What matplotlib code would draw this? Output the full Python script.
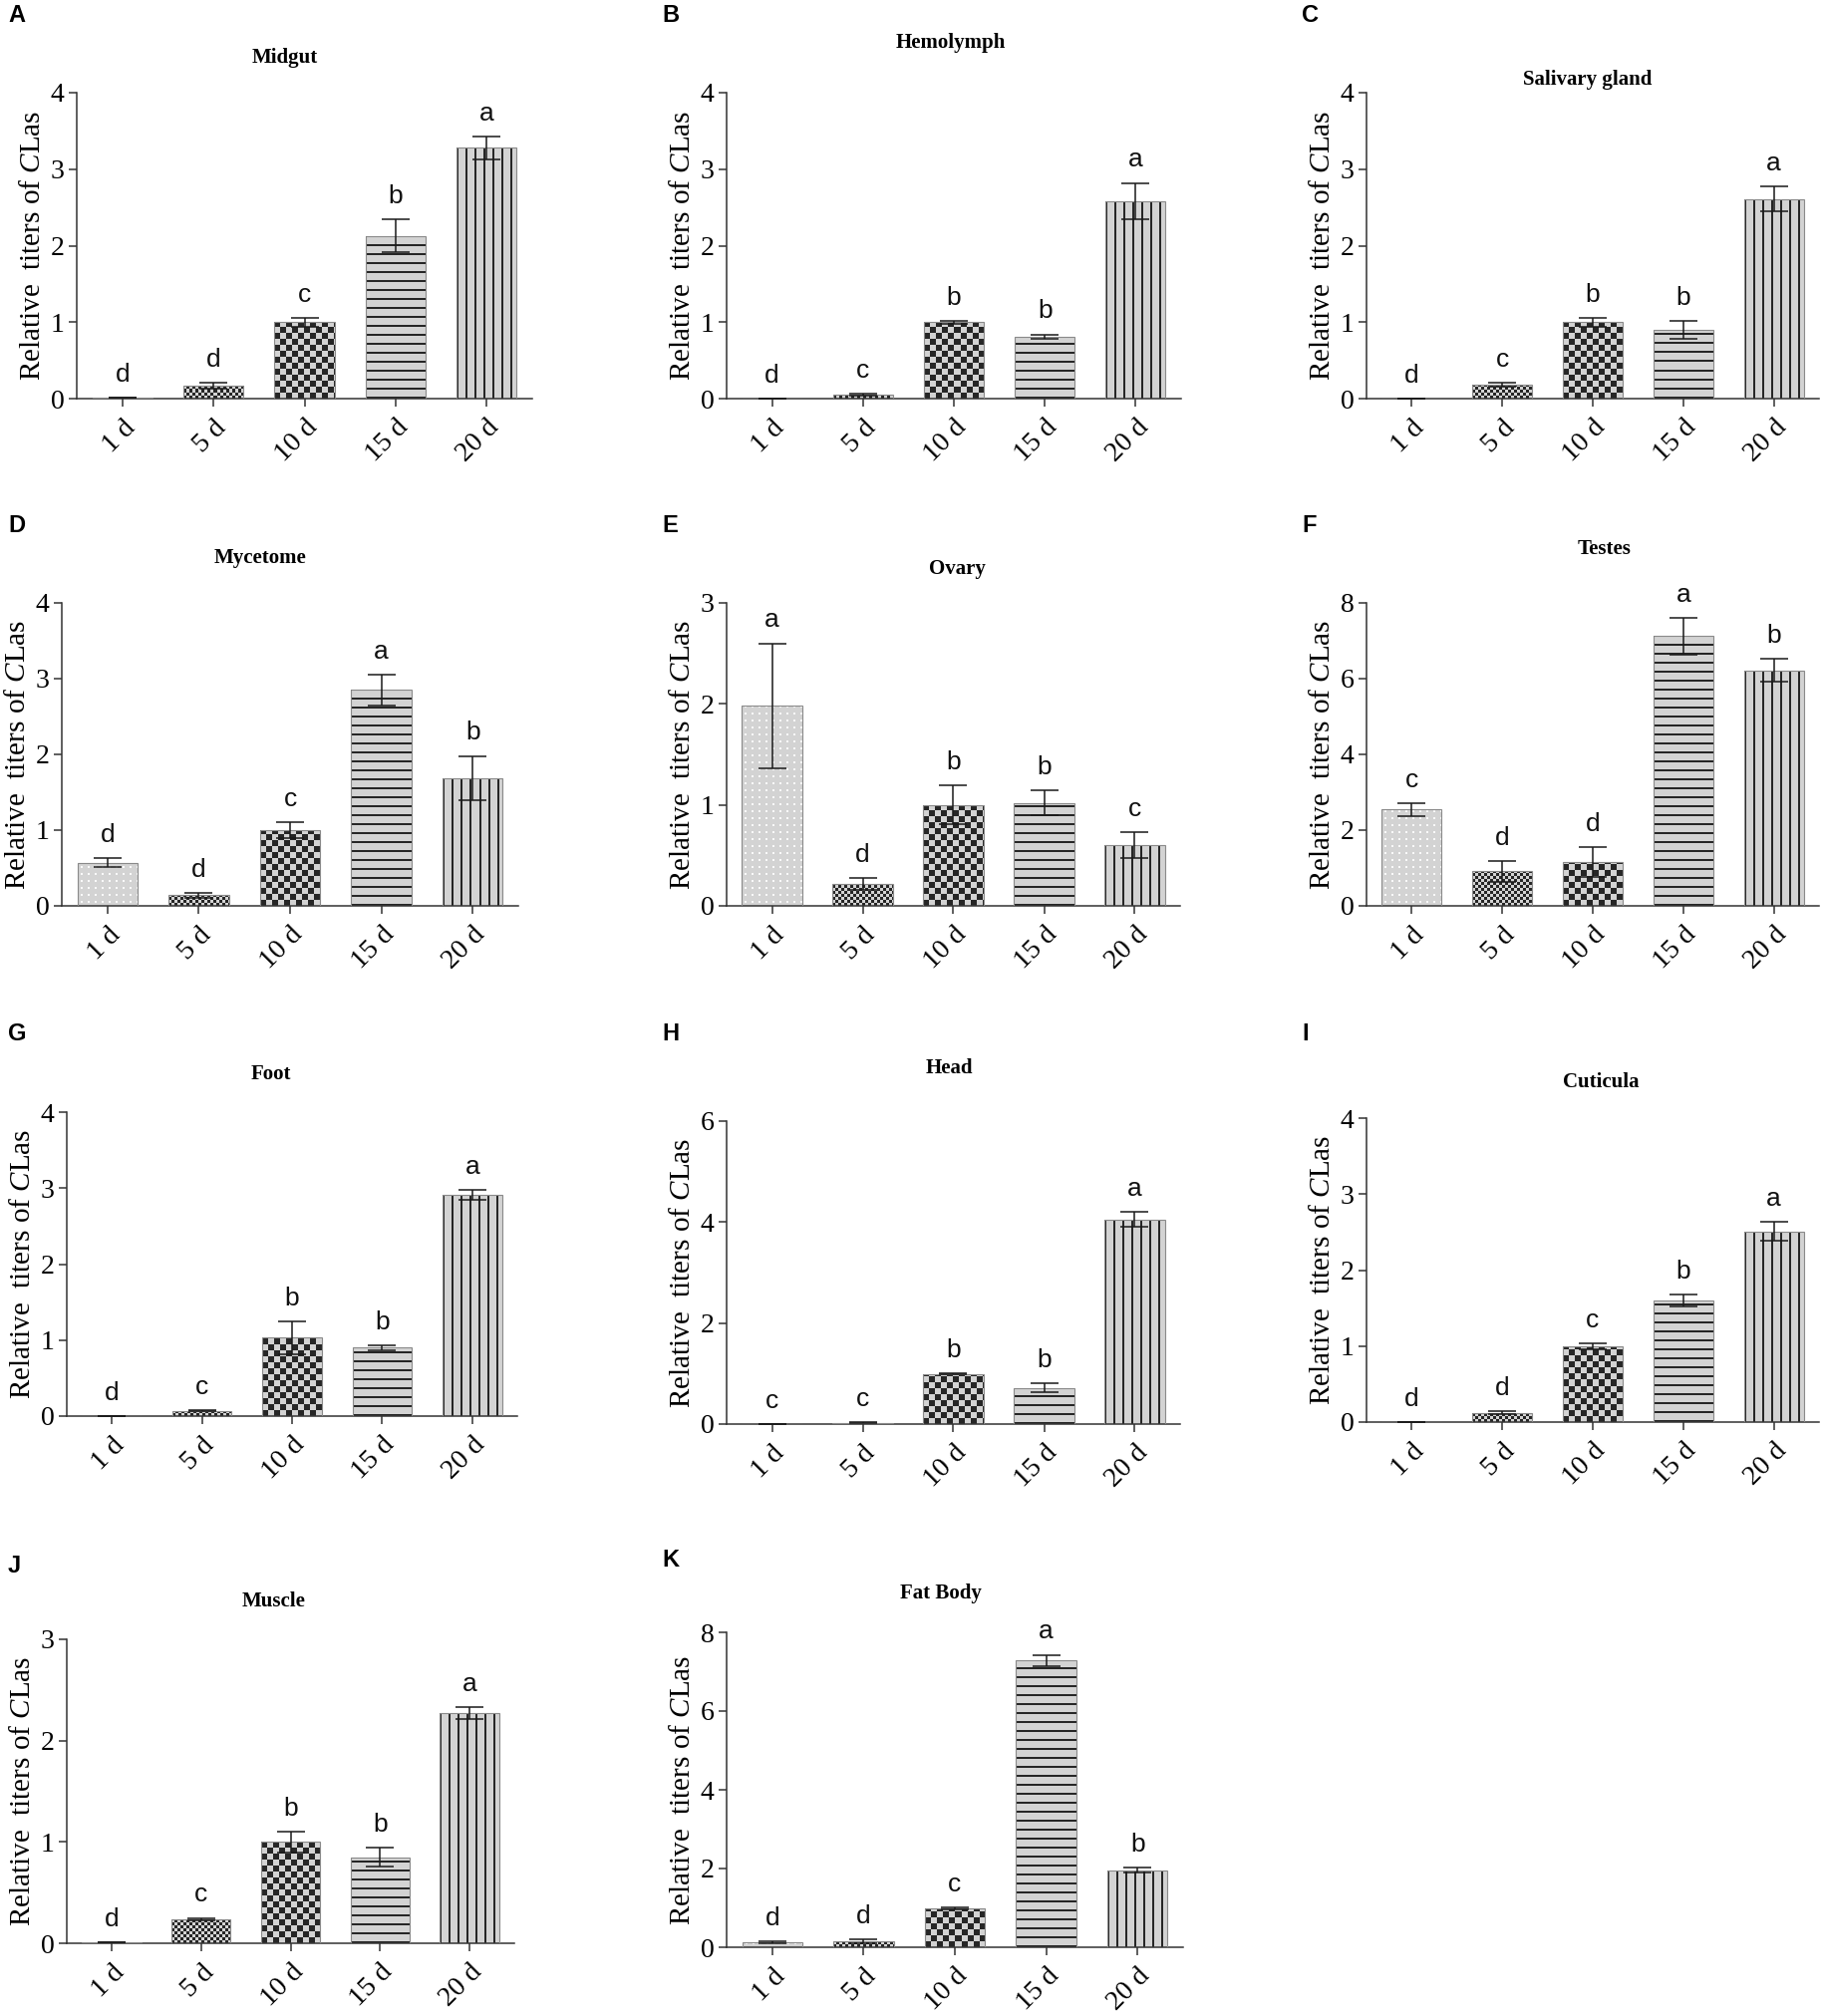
import numpy as np
import matplotlib
matplotlib.use("Agg")
import matplotlib.pyplot as plt

plt.rcParams['font.family'] = ['Liberation Serif', 'DejaVu Serif']
plt.rcParams['mathtext.fontset'] = 'custom'
plt.rcParams['mathtext.rm'] = 'Liberation Serif'
plt.rcParams['mathtext.it'] = 'Liberation Serif:italic'

# ---------------- data ----------------
days = ["1 d", "5 d", "10 d", "15 d", "20 d"]
panel_ids = ["A", "B", "C", "D", "E", "F", "G", "H", "I", "J", "K"]
tissues = ["Midgut", "Hemolymph", "Salivary gland", "Mycetome", "Ovary", "Testes",
           "Foot", "Head", "Cuticula", "Muscle", "Fat Body"]
means = [
    [0.01, 0.17, 1.00, 2.13, 3.28],
    [0.00, 0.05, 1.00, 0.81, 2.58],
    [0.00, 0.18, 1.00, 0.90, 2.61],
    [0.57, 0.14, 1.00, 2.85, 1.69],
    [1.98, 0.22, 1.00, 1.02, 0.60],
    [2.55, 0.91, 1.16, 7.12, 6.22],
    [0.00, 0.07, 1.03, 0.90, 2.91],
    [0.00, 0.02, 0.99, 0.72, 4.05],
    [0.00, 0.12, 1.00, 1.60, 2.51],
    [0.01, 0.24, 1.00, 0.85, 2.27],
    [0.13, 0.15, 0.98, 7.28, 1.96],
]
errors = [
    [0.00, 0.04, 0.06, 0.21, 0.15],
    [0.00, 0.01, 0.02, 0.03, 0.24],
    [0.00, 0.03, 0.06, 0.12, 0.16],
    [0.06, 0.03, 0.11, 0.20, 0.29],
    [0.62, 0.06, 0.19, 0.12, 0.13],
    [0.17, 0.28, 0.40, 0.48, 0.30],
    [0.00, 0.01, 0.22, 0.03, 0.07],
    [0.00, 0.01, 0.01, 0.09, 0.15],
    [0.00, 0.02, 0.04, 0.08, 0.12],
    [0.00, 0.01, 0.10, 0.09, 0.06],
    [0.02, 0.04, 0.03, 0.15, 0.07],
]
letters = [
    ["d", "d", "c", "b", "a"],
    ["d", "c", "b", "b", "a"],
    ["d", "c", "b", "b", "a"],
    ["d", "d", "c", "a", "b"],
    ["a", "d", "b", "b", "c"],
    ["c", "d", "d", "a", "b"],
    ["d", "c", "b", "b", "a"],
    ["c", "c", "b", "b", "a"],
    ["d", "d", "c", "b", "a"],
    ["d", "c", "b", "b", "a"],
    ["d", "d", "c", "a", "b"],
]
ymax = [4, 4, 4, 4, 3, 8, 4, 6, 4, 3, 8]
ystep = [1, 1, 1, 1, 1, 2, 1, 2, 1, 1, 2]

# ---------------- layout (pixels in 1829x2023 canvas) ----------------
W, H = 1829, 2023
axes_px = [  # left, right, top(ymax), bottom(0)
    (77, 534, 93, 400), (729, 1185, 93, 400), (1371, 1825, 93, 400),
    (62, 520, 605, 909), (729, 1184, 605, 909), (1371, 1825, 605, 909),
    (67, 519, 1116, 1421), (729, 1184, 1125, 1429), (1371, 1825, 1122, 1427),
    (67, 516, 1645, 1950), (729, 1187, 1638, 1954),
]
title_px = [(286, 58), (954, 43), (1593, 80), (261, 560), (960, 571), (1610, 551),
            (272, 1078), (952, 1072), (1606, 1086), (275, 1607), (944, 1599)]
letter_px = [(8, 16), (664, 16), (1306, 16), (8, 527), (664, 527), (1306, 527),
             (8, 1037), (664, 1037), (1306, 1037), (8, 1572), (664, 1565)]

GRAY = np.array([0.83, 0.83, 0.83])
DARK = np.array([0.15, 0.15, 0.15])
WHITE = np.array([0.98, 0.98, 0.98])


def pattern(kind, h, w):
    i = np.arange(h)[:, None]
    j = np.arange(w)[None, :]
    img = np.ones((h, w, 3)) * GRAY
    if kind == 0:      # dotted
        m = ((i % 7) >= 3) & ((i % 7) <= 4) & ((j % 7) >= 3) & ((j % 7) <= 4)
        img[m] = WHITE
    elif kind == 1:    # fine checker
        m = ((i // 3 + j // 3) % 2) == 0
        img[m] = DARK
    elif kind == 2:    # coarse checker
        m = ((i // 6 + j // 6) % 2) == 0
        img[m] = DARK
    elif kind == 3:    # horizontal lines
        m = np.broadcast_to((i % 9) < 2, (h, w))
        img[m] = DARK
    elif kind == 4:    # vertical lines
        m = np.broadcast_to((j % 9) < 2, (h, w))
        img[m] = DARK
    return img


fig = plt.figure(figsize=(W / 100, H / 100), dpi=100)
x = np.arange(len(days))

for k in range(len(panel_ids)):
    l, r, t, b = axes_px[k]
    ax = fig.add_axes([l / W, (H - b) / H, (r - l) / W, (b - t) / H])
    ax.set_xlim(-0.5, 4.5)
    ax.set_ylim(0, ymax[k])
    bars = ax.bar(x, means[k], width=0.66, color=tuple(GRAY), edgecolor='none', zorder=1)
    ax.bar(x, means[k], width=0.66, fill=False, edgecolor='#8a8a8a', linewidth=0.8, zorder=3)
    inv = ax.transData.inverted()
    for n, bar in enumerate(bars):
        x0, x1 = bar.get_x(), bar.get_x() + bar.get_width()
        p0 = np.round(ax.transData.transform((x0, 0)))
        p1 = np.round(ax.transData.transform((x1, bar.get_height())))
        wpx = int(p1[0] - p0[0])
        hpx = int(p1[1] - p0[1])
        if hpx < 2 or wpx < 2:
            continue
        d0 = inv.transform(p0)
        d1 = inv.transform(p1)
        img = pattern(n, hpx, wpx)
        im = ax.imshow(img, extent=(d0[0], d1[0], d0[1], d1[1]), origin='lower',
                       interpolation='nearest', aspect='auto', zorder=2)
        im.set_clip_path(bar)
    ax.set_ylim(0, ymax[k])
    ax.set_xlim(-0.5, 4.5)
    ax.errorbar(x, means[k], yerr=errors[k], fmt='none', ecolor='#1a1a1a',
                elinewidth=1.1, capsize=10, capthick=1.1, zorder=4)
    for xi, m, e, lt in zip(x, means[k], errors[k], letters[k]):
        ax.annotate(lt, (xi, m + e), xytext=(0, 8), textcoords='offset points',
                    ha='center', va='bottom', fontsize=19, family='Liberation Sans',
                    color='#111111')
    ax.set_yticks(np.arange(0, ymax[k] + 0.001, ystep[k]))
    ax.set_xticks(x)
    ax.set_xticklabels(days, rotation=45, ha='right', rotation_mode='anchor')
    ax.tick_params(axis='both', labelsize=20, length=6, width=1.1, color='#333333',
                   direction='out')
    ax.tick_params(axis='x', pad=6)
    ax.tick_params(axis='y', pad=3)
    for s in ['top', 'right']:
        ax.spines[s].set_visible(False)
    for s in ['left', 'bottom']:
        ax.spines[s].set_linewidth(1.1)
        ax.spines[s].set_color('#333333')
    ax.set_ylabel(r"Relative  titers of $\it{C}$Las", fontsize=21, labelpad=3)
    tx, ty = title_px[k]
    fig.text(tx / W, 1 - ty / H, tissues[k], ha='center', va='center',
             fontsize=15, fontweight='bold')
    lx, ly = letter_px[k]
    fig.text(lx / W, 1 - ly / H, panel_ids[k], ha='left', va='center',
             fontsize=17, fontweight='bold', family='Liberation Sans')

fig.savefig("out.png", dpi=100, facecolor='white')
